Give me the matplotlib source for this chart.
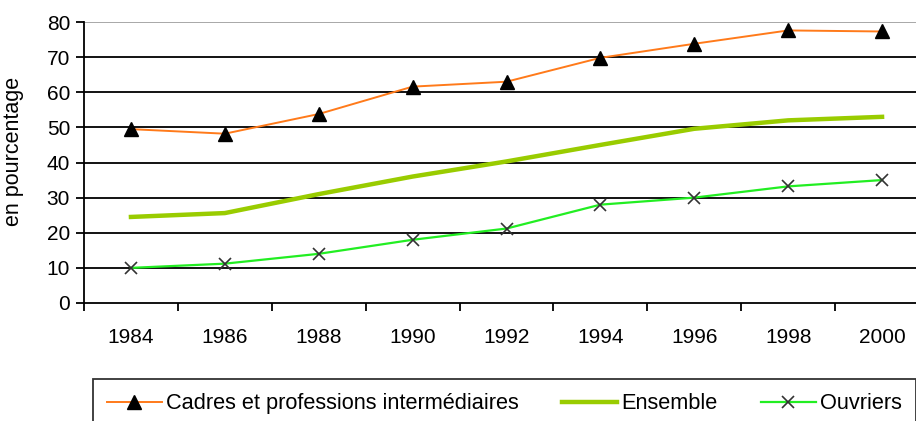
import numpy as np
import matplotlib.pyplot as plt

plt.rcParams['font.family'] = ['Liberation Sans', 'DejaVu Sans']

annees = ['1984', '1986', '1988', '1990', '1992', '1994', '1996', '1998', '2000']
cadres = [49.5, 48.2, 53.8, 61.6, 63.0, 69.8, 73.8, 77.6, 77.3]
ensemble = [24.5, 25.6, 31.0, 36.0, 40.3, 45.0, 49.6, 52.0, 53.0]
ouvriers = [10.0, 11.2, 14.0, 18.0, 21.2, 28.0, 30.0, 33.2, 35.0]

W, H = 916, 421
fig = plt.figure(figsize=(W / 100, H / 100), dpi=100)
# plot area runs a bit past the right edge of the figure
ax = fig.add_axes([84 / W, 1 - 303 / H, (929 - 84) / W, (303 - 22) / H])

x = np.arange(len(annees))
ax.plot(x, cadres, color='#ff7a1a', lw=1.4, marker='^', ms=10,
        mfc='black', mec='black', label='Cadres et professions intermédiaires', zorder=4)
ax.plot(x, ensemble, color='#99cc00', lw=3.2, label='Ensemble', zorder=3)
ax.plot(x, ouvriers, color='#22ee22', lw=1.6, marker='x', ms=8, mew=1.2,
        mec='#333333', label='Ouvriers', zorder=3)

ax.set_xlim(-0.5, len(annees) - 0.5)
ax.set_ylim(0, 80)
ax.set_yticks(range(0, 90, 10))
ax.set_xticks(x)
ax.set_xticklabels(annees)
ax.set_xticks(np.arange(-0.5, len(annees), 1), minor=True)
ax.tick_params(axis='x', which='major', length=0, pad=18, labelsize=15)
ax.tick_params(axis='x', which='minor', length=6, width=1.3, direction='out')
ax.tick_params(axis='y', length=6, width=1.3, pad=4, labelsize=15)

for v in range(10, 80, 10):
    ax.axhline(v, color='black', lw=1.3, zorder=1)
ax.axhline(80, color='#999999', lw=1.2, zorder=1)

for s in ['top', 'right']:
    ax.spines[s].set_visible(False)
ax.spines['left'].set_linewidth(1.3)
ax.spines['bottom'].set_linewidth(1.3)

ax.set_ylabel('en pourcentage', fontsize=15.5)
ax.yaxis.set_label_coords(-60 / (929 - 84), (303 - 151) / (303 - 22))

leg = fig.legend(loc='upper left', bbox_to_anchor=(93 / W, 1 - 379 / H),
                 ncol=3, fontsize=15.7, frameon=True, fancybox=False,
                 edgecolor='black', borderaxespad=0, handlelength=2.5,
                 handletextpad=0.2, columnspacing=2.0, borderpad=0.65,
                 numpoints=1)
leg.get_frame().set_linewidth(1.3)

fig.savefig('out.png', dpi=100)
